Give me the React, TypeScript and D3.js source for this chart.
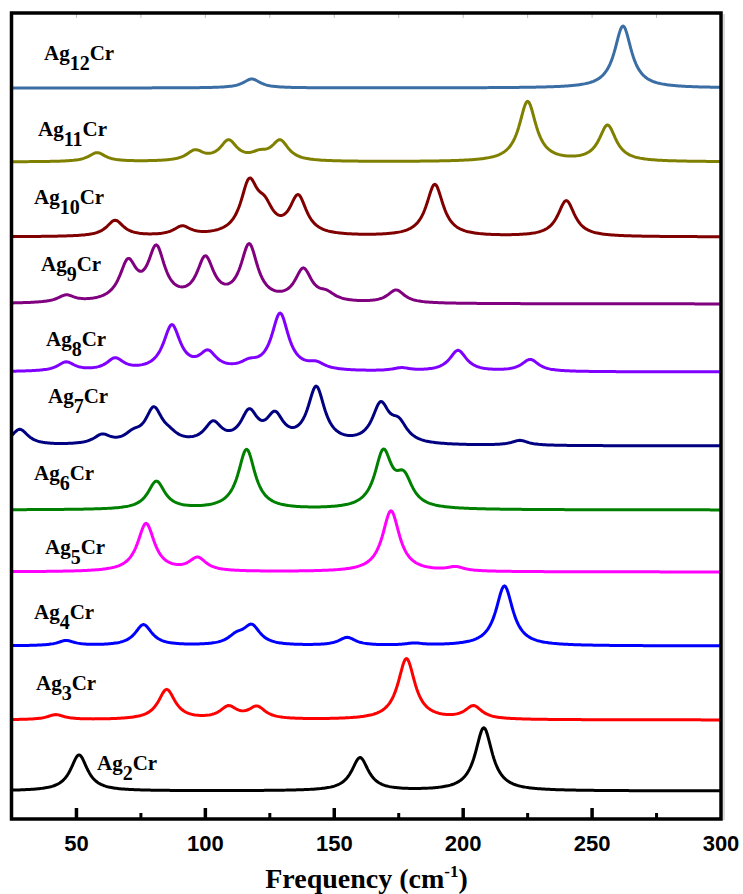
import React from 'react';
import * as d3 from 'd3';

// Ag_nCr clusters, bottom (n = 2) to top (n = 12)
const compounds = ['2', '3', '4', '5', '6', '7', '8', '9', '10', '11', '12'];
const lineColors = ['#000000', '#ff0000', '#0000ff', '#ff00ff', '#008000', '#000080', '#8000ff', '#800080', '#800000', '#808000', '#3a6ea5'];
// vertical offset of each spectrum (arb. units)
const offsets = [27, 98, 172, 246, 308, 372, 446, 514, 581, 656, 730];
// [frequency cm-1, intensity] of each mode
const peaks: [number, number][][] = [
  [[51, 36], [160, 33], [208, 63]],
  [[42, 5], [85, 30], [109, 12], [120, 12], [178, 61], [204, 13]],
  [[46, 5], [76, 21], [112, 8], [118, 19], [155, 8], [181, 2], [216, 60]],
  [[77, 48], [97, 13], [172, 61], [197, 4]],
  [[81, 28], [116, 60], [169, 55], [177, 28]],
  [[28, 16], [60, 9], [72, 8], [80, 34], [86, 6], [103, 20], [117, 30], [127, 26], [143, 56], [168, 38], [175, 18], [222, 5]],
  [[46, 9], [65, 12], [87, 45], [101, 17], [117, 6], [129, 57], [143, 6], [176, 3], [198, 21], [226, 12]],
  [[46, 7], [70, 38], [81, 52], [100, 42], [117, 56], [138, 32], [147, 7], [174, 13]],
  [[65, 16], [91, 9], [117, 50], [123, 22], [136, 38], [189, 52], [240, 36]],
  [[58, 9], [96, 10], [109, 20], [121, 6], [129, 20], [225, 60], [256, 36]],
  [[118, 9], [262, 62]],
];
const majorTicks = [50, 100, 150, 200, 250, 300];
const minorTicks = [75, 125, 175, 225, 275];
const topTicks = [50, 75, 100, 125, 150, 175, 200, 225, 250, 275];

// label anchor (px) for each compound name
const labelPos: [number, number][] = [
  [97, 770], [36, 690], [34, 619], [45, 554], [34, 480], [48, 403],
  [46, 346], [41, 271], [34, 204], [38, 136], [44, 60],
];

const W = 743;
const H = 894;
const fwhm = 8;

const serif = '"Times New Roman", "Liberation Serif", serif';
const sans = 'Arial, "Liberation Sans", sans-serif';

export default function App() {
  const x = d3.scaleLinear().domain([25, 300]).range([12, 721]);
  const y = d3.scaleLinear().domain([0, 805]).range([818, 13]);
  const grid = d3.range(25, 300.01, 0.5);

  const spectrum = (list: [number, number][]) =>
    grid.map(f => {
      let s = 0;
      for (const [c, a] of list) {
        const t = (f - c) / (fwhm / 2);
        s += a / (1 + t * t);
      }
      return [f, s] as [number, number];
    });

  return (
    <svg width={W} height={H} style={{ position: 'absolute', left: 0, top: 0, background: '#fff' }}>
      <defs>
        <clipPath id="plot">
          <rect x={12} y={13} width={709} height={806} />
        </clipPath>
      </defs>
      <g clipPath="url(#plot)">
        {peaks.map((list, i) => {
          const line = d3.line<[number, number]>()
            .x(d => x(d[0]))
            .y(d => y(d[1] + offsets[i]));
          return (
            <path key={i} d={line(spectrum(list)) || ''} fill="none"
              stroke={lineColors[i]} strokeWidth={3} strokeLinejoin="round" />
          );
        })}
      </g>
      {compounds.map((n, i) => (
        <text key={n} x={labelPos[i][0]} y={labelPos[i][1]} fontFamily={serif}
          fontWeight="bold" fontSize={21} fill="#000">
          Ag<tspan fontSize={20} dy={10}>{n}</tspan><tspan dy={-10}>Cr</tspan>
        </text>
      ))}
      {topTicks.map(t => (
        <line key={'tt' + t} x1={x(t)} x2={x(t)} y1={14} y2={18} stroke="#bbb" strokeWidth={1} />
      ))}
      {majorTicks.slice(0, -1).map(t => (
        <line key={'mj' + t} x1={x(t)} x2={x(t)} y1={819} y2={808} stroke="#000" strokeWidth={3.5} />
      ))}
      {minorTicks.map(t => (
        <line key={'mn' + t} x1={x(t)} x2={x(t)} y1={819} y2={813} stroke="#000" strokeWidth={3} />
      ))}
      <rect x={11.5} y={13} width={709.5} height={806} fill="none" stroke="#000" strokeWidth={3.5} />
      <line x1={724} x2={724} y1={14} y2={820} stroke="#d0d0d0" strokeWidth={1.5} />
      {majorTicks.map(t => (
        <text key={'lb' + t} x={x(t)} y={851} textAnchor="middle" fontFamily={sans}
          fontWeight="bold" fontSize={22} fill="#000">{t}</text>
      ))}
      <text x={(x(25) + x(300)) / 2} y={888} textAnchor="middle" fontFamily={serif}
        fontWeight="bold" fontSize={28} fill="#000">
        Frequency (cm<tspan fontSize={17} dy={-11}>-1</tspan><tspan dy={11}>)</tspan>
      </text>
    </svg>
  );
}
